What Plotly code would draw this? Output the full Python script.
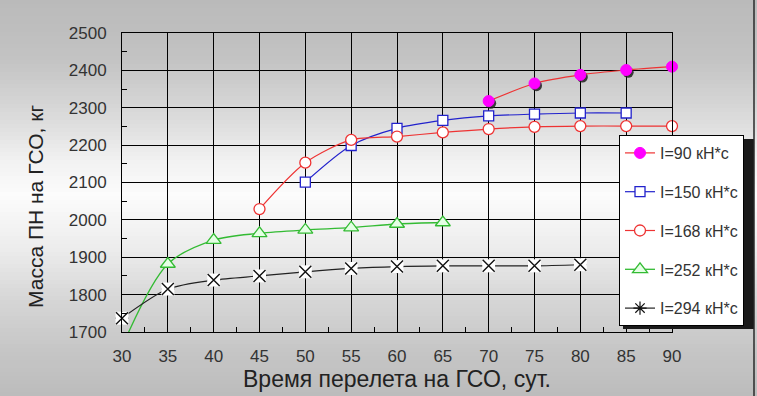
import numpy as np
import plotly.graph_objects as go

# ---- data ----
i90_x = [70, 75, 80, 85, 90]
i90_y = [2318, 2365, 2388, 2401, 2410]
i150_x = [50, 55, 60, 65, 70, 75, 80, 85]
i150_y = [2101, 2199, 2245, 2266, 2278, 2283, 2286, 2286]
i168_x = [45, 50, 55, 60, 65, 70, 75, 80, 85, 90]
i168_y = [2029, 2153, 2214, 2223, 2234, 2243, 2249, 2251, 2251, 2251]
i252_x = [30, 35, 40, 45, 50, 55, 60, 65]
i252_y = [1660, 1882, 1946, 1964, 1973, 1979, 1989, 1993]
i294_x = [30, 35, 40, 45, 50, 55, 60, 65, 70, 75, 80]
i294_y = [1737, 1815, 1839, 1850, 1861, 1870, 1875, 1877, 1877, 1877, 1880]
names = ["I=90 кН*с", "I=150 кН*с", "I=168 кН*с", "I=252 кН*с", "I=294 кН*с"]
x_ticks = list(range(30, 95, 5))
y_ticks = list(range(1700, 2600, 100))

FONT = "Liberation Sans, Arial, sans-serif"
W, H = 757, 396
L, R, T, B = 122, 85, 33, 64
PW, PH = W - L - R, H - T - B


def px2x(px):
    return (px - L) / PW


def py2y(py):
    return (H - B - py) / PH


fig = go.Figure()

# I=90 shadow + series
fig.add_trace(go.Scatter(x=np.array(i90_x) + 0.22, y=np.array(i90_y) - 6, mode="markers",
                         marker=dict(symbol="circle", size=11, color="rgba(30,30,30,0.85)"),
                         showlegend=False, hoverinfo="skip", cliponaxis=False))
fig.add_trace(go.Scatter(x=i90_x, y=i90_y, name=names[0], mode="lines+markers", legendgroup="g1",
                         line=dict(color="#ee3333", width=1.2, shape="spline", smoothing=0.8),
                         marker=dict(symbol="circle", size=11, color="#ff00ff",
                                     line=dict(color="#ff00ff", width=1)),
                         cliponaxis=False))
# I=150
fig.add_trace(go.Scatter(x=i150_x, y=i150_y, name=names[1], mode="lines+markers", legendgroup="g2",
                         line=dict(color="#2222cc", width=1.2, shape="spline", smoothing=0.8),
                         marker=dict(symbol="square", size=10, color="white",
                                     line=dict(color="#2222cc", width=1.3)),
                         cliponaxis=False))
# I=168
fig.add_trace(go.Scatter(x=i168_x, y=i168_y, name=names[2], mode="lines+markers", legendgroup="g3",
                         line=dict(color="#ee3333", width=1.2, shape="spline", smoothing=0.8),
                         marker=dict(symbol="circle", size=11, color="white",
                                     line=dict(color="#ee3333", width=1.3)),
                         cliponaxis=False))
# I=252
fig.add_trace(go.Scatter(x=i252_x, y=i252_y, name=names[3], mode="lines+markers", legendgroup="g4",
                         line=dict(color="#33bb33", width=1.3, shape="spline", smoothing=0.9),
                         marker=dict(symbol="triangle-up", size=13, color="#e4ffe4",
                                     line=dict(color="#33bb33", width=1.3)),
                         cliponaxis=True))
# I=294
fig.add_trace(go.Scatter(x=i294_x, y=i294_y, name=names[4], mode="lines+markers", legendgroup="g5",
                         line=dict(color="#222222", width=1.2, shape="spline", smoothing=0.8),
                         marker=dict(symbol="asterisk-open", size=11, color="#111111",
                                     line=dict(color="#111111", width=1.2)),
                         cliponaxis=False))
fig.add_trace(go.Scatter(x=i294_x, y=i294_y, mode="markers", showlegend=False, hoverinfo="skip",
                         marker=dict(symbol="square", size=13, color="white", line=dict(width=0)),
                         cliponaxis=False))
fig.add_trace(go.Scatter(x=i294_x, y=i294_y, mode="markers", showlegend=False, hoverinfo="skip",
                         marker=dict(symbol="x-thin-open", size=12, color="#111111",
                                     line=dict(color="#111111", width=1.4)),
                         cliponaxis=False))

# ---- background gradient (figure-wide) ----
gp = [0, 60, 120, 160, 195, 250, 300, 350, 396]
gv = [186, 195, 220, 241, 252, 236, 214, 198, 188]
shapes = []
step = 4
for py in range(0, H, step):
    g = int(round(np.interp(py + step / 2, gp, gv)))
    shapes.append(dict(type="rect", xref="paper", yref="paper", layer="below",
                       x0=px2x(-2), x1=px2x(W + 2), y0=py2y(py + step + 0.6), y1=py2y(py),
                       fillcolor=f"rgb({g},{g},{g})", line=dict(width=0)))
# legend shadow
shapes.append(dict(type="rect", xref="paper", yref="paper", layer="above",
                   x0=px2x(623), x1=px2x(754), y0=py2y(329), y1=py2y(139),
                   fillcolor="#1a1a1a", line=dict(width=0)))
# right frame edge
shapes.append(dict(type="line", xref="paper", yref="paper", layer="above",
                   x0=px2x(754), x1=px2x(754), y0=py2y(0), y1=py2y(H),
                   line=dict(color="#2a2a2a", width=1.5)))

axis_common = dict(showline=True, linecolor="black", linewidth=1, mirror=True,
                   showgrid=True, gridcolor="black", gridwidth=1, zeroline=False,
                   ticks="inside", ticklen=5, tickcolor="black",
                   tickfont=dict(family=FONT, size=17, color="#333333"))

fig.update_xaxes(range=[30, 90], tickvals=x_ticks, ticklabelstandoff=9,
                 minor=dict(ticks="inside", ticklen=5, tickcolor="black", dtick=2.5, tick0=30,
                            showgrid=False),
                 **axis_common)
fig.update_yaxes(range=[1700, 2500], tickvals=y_ticks, ticklabelstandoff=11,
                 minor=dict(ticks="inside", ticklen=5, tickcolor="black", dtick=50, tick0=1700,
                            showgrid=False),
                 **axis_common)

fig.update_layout(
    width=W, height=H,
    margin=dict(l=L, r=R, t=T, b=B, pad=0),
    paper_bgcolor="rgb(200,200,200)",
    plot_bgcolor="rgba(0,0,0,0)",
    shapes=shapes,
    showlegend=True,
    legend=dict(x=px2x(619), y=py2y(135), xanchor="left", yanchor="top",
                bgcolor="white", bordercolor="black", borderwidth=1,
                font=dict(family=FONT, size=16, color="#333333"),
                tracegroupgap=15, itemwidth=30),
    annotations=[
        dict(text="Масса ПН на ГСО, кг", xref="paper", yref="paper",
             x=px2x(35), y=py2y(207), textangle=-90, showarrow=False,
             xanchor="center", yanchor="middle",
             font=dict(family=FONT, size=21, color="#222222")),
        dict(text="Время перелета на ГСО, сут.", xref="paper", yref="paper",
             x=px2x(397), y=py2y(379), showarrow=False,
             xanchor="center", yanchor="middle",
             font=dict(family=FONT, size=23, color="#222222")),
    ],
)

fig.write_html("out.html")
